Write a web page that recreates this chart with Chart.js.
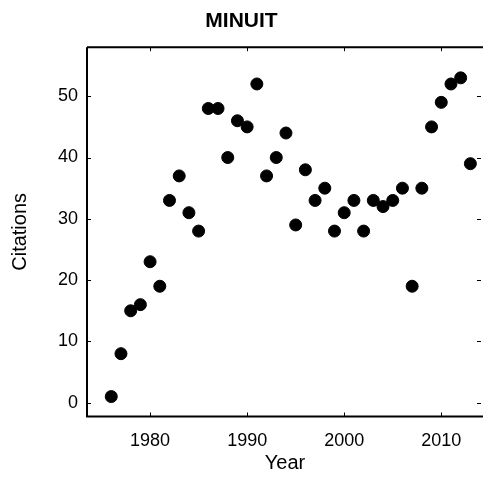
<!DOCTYPE html>
<html>
<head>
  <script src="https://cdn.jsdelivr.net/npm/chart.js"></script>
  <style>
    html, body { margin: 0; padding: 0; background: #fff; overflow: hidden; }
    canvas { display: block; }
  </style>
</head>
<body>
  <canvas id="scatterChart" width="483" height="494"></canvas>

  <script>
    // MINUIT citations per year
    var years = [1976, 1977, 1978, 1979, 1980, 1981, 1982, 1983, 1984, 1985, 1986, 1987, 1988, 1989, 1990, 1991, 1992, 1993, 1994, 1995, 1996, 1997, 1998, 1999, 2000, 2001, 2002, 2003, 2004, 2005, 2006, 2007, 2008, 2009, 2010, 2011, 2012, 2013];
    var citations = [1, 8, 15, 16, 23, 19, 33, 37, 31, 28, 48, 48, 40, 46, 45, 52, 37, 40, 44, 29, 38, 33, 35, 28, 31, 33, 28, 33, 32, 33, 35, 19, 35, 45, 49, 52, 53, 39];

    var xTicks = [1980, 1990, 2000, 2010];
    var yTicks = [0, 10, 20, 30, 40, 50];

    var points = [];
    for (var i = 0; i < years.length; i++) {
      points.push({ x: years[i], y: citations[i] });
    }

    var fontFamily = '"Liberation Sans", Arial, sans-serif';

    // frame on left, top, bottom + inward ticks on all four sides
    var framePlugin = {
      id: 'frame',
      afterDraw: function(chart) {
        var ctx = chart.ctx;
        var a = chart.chartArea;
        var xs = chart.scales.x, ys = chart.scales.y;
        var len = 4;
        ctx.save();
        ctx.strokeStyle = '#000';
        ctx.lineWidth = 1;
        ctx.beginPath();
        xTicks.forEach(function(v) {
          var px = Math.round(xs.getPixelForValue(v)) + 0.5;
          ctx.moveTo(px, a.bottom); ctx.lineTo(px, a.bottom - len);
          ctx.moveTo(px, a.top); ctx.lineTo(px, a.top + len);
        });
        yTicks.forEach(function(v) {
          var py = Math.round(ys.getPixelForValue(v)) + 0.5;
          ctx.moveTo(a.left, py); ctx.lineTo(a.left + len, py);
          ctx.moveTo(a.right - 2, py); ctx.lineTo(a.right - 2 - len, py);
        });
        ctx.stroke();
        ctx.lineWidth = 2;
        ctx.beginPath();
        ctx.moveTo(a.left, a.top);
        ctx.lineTo(a.left, a.bottom);
        ctx.lineTo(a.right, a.bottom);
        ctx.moveTo(a.left, a.top);
        ctx.lineTo(a.right, a.top);
        ctx.stroke();
        ctx.restore();
      }
    };

    var config = {
      type: 'scatter',
      data: {
        datasets: [{
          label: 'Citations',
          data: points,
          backgroundColor: '#000',
          borderColor: '#000',
          pointRadius: 6,
          pointHoverRadius: 6
        }]
      },
      options: {
        responsive: false,
        animation: false,
        layout: { padding: 0, autoPadding: false },
        plugins: {
          legend: { display: false },
          tooltip: { enabled: false },
          title: {
            display: true,
            text: 'MINUIT',
            color: '#000',
            font: { family: fontFamily, size: 21, weight: 'bold' },
            padding: { top: 9, bottom: 13 }
          }
        },
        scales: {
          x: {
            type: 'linear',
            min: 1973.5,
            max: 2014.3,
            grid: { display: false, drawTicks: false },
            border: { display: false },
            afterBuildTicks: function(scale) {
              scale.ticks = xTicks.map(function(v) { return { value: v }; });
            },
            afterFit: function(scale) {
              scale.height = 77.5;
              scale.paddingLeft = 0;
              scale.paddingRight = 0;
            },
            ticks: {
              color: '#000',
              padding: 14,
              maxRotation: 0,
              font: { family: fontFamily, size: 18 },
              callback: function(v) { return String(v); }
            },
            title: {
              display: true,
              text: 'Year',
              color: '#000',
              font: { family: fontFamily, size: 20 },
              padding: { top: 0, bottom: 19 }
            }
          },
          y: {
            type: 'linear',
            min: -2.25,
            max: 58,
            grid: { display: false, drawTicks: false },
            border: { display: false },
            afterBuildTicks: function(scale) {
              scale.ticks = yTicks.map(function(v) { return { value: v }; });
            },
            afterFit: function(scale) {
              scale.width = 87;
              scale.paddingTop = 0;
              scale.paddingBottom = 0;
            },
            ticks: {
              color: '#000',
              padding: 9,
              font: { family: fontFamily, size: 18 },
              callback: function(v) { return String(v); }
            },
            title: {
              display: true,
              text: 'Citations',
              color: '#000',
              font: { family: fontFamily, size: 20 },
              padding: { top: 8, bottom: 0 }
            }
          }
        }
      },
      plugins: [framePlugin]
    };

    var ctx = document.getElementById('scatterChart').getContext('2d');
    new Chart(ctx, config);
  </script>
</body>
</html>
